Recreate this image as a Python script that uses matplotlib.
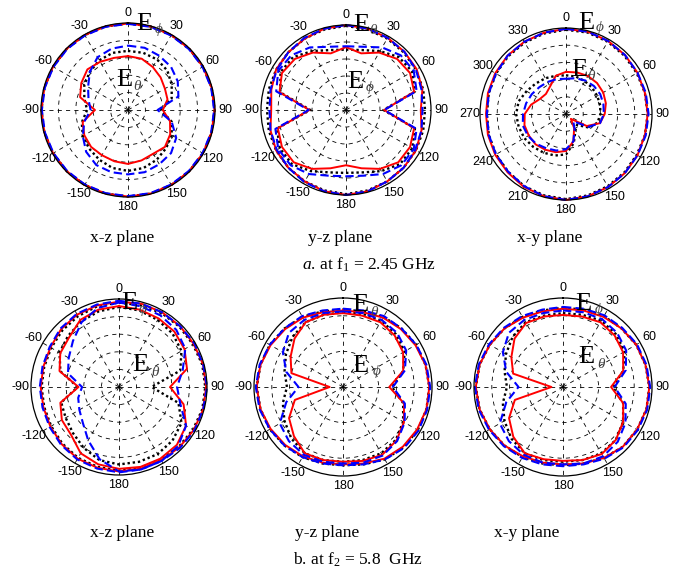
import numpy as np
import matplotlib
matplotlib.use("Agg")
import matplotlib.pyplot as plt

plt.rcParams['mathtext.fontset'] = 'custom'
plt.rcParams['mathtext.rm'] = 'Liberation Serif'
plt.rcParams['mathtext.it'] = 'Liberation Serif:italic'

# ---------------- data (normalised radius, angles 0..345 step 15 deg) ----------------
ANGLES = list(range(0, 360, 15))
GRID_ANGLES = [0, 30, 60, 90, 120, 150, 180, 210, 240, 270, 300, 330]
LABELS_SIGNED = ['0', '30', '60', '90', '120', '150', '180', '-150', '-120', '-90', '-60', '-30']
LABELS_360 = ['0', '30', '60', '90', '120', '150', '180', '210', '240', '270', '300', '330']
RINGS = [0.2, 0.4, 0.6, 0.8]

plane_names = ['x-z plane', 'y-z plane', 'x-y plane']
caption_a = r'$\mathit{a}$. at f$_{1}$ = 2.45 GHz'
caption_b = r'b. at f$_{2}$ = 5.8  GHz'

# plot 1: x-z plane, 2.45 GHz
p1_out_red = [0.995] * 24
p1_out_black = [0.995] * 24
p1_out_blue = [0.99] * 24
p1_in_red = [0.62, 0.61, 0.57, 0.53, 0.49, 0.47, 0.40, 0.50, 0.56, 0.60, 0.58, 0.60,
             0.62, 0.61, 0.60, 0.60, 0.58, 0.54, 0.38, 0.57, 0.62, 0.66, 0.64, 0.62]
p1_in_black = [0.68, 0.68, 0.67, 0.64, 0.58, 0.52, 0.38, 0.52, 0.58, 0.62, 0.66, 0.69,
               0.70, 0.69, 0.66, 0.63, 0.60, 0.55, 0.47, 0.52, 0.58, 0.62, 0.66, 0.68]
p1_in_blue = [0.74, 0.74, 0.72, 0.70, 0.66, 0.60, 0.34, 0.52, 0.64, 0.70, 0.72, 0.74,
              0.74, 0.74, 0.73, 0.68, 0.60, 0.52, 0.43, 0.47, 0.53, 0.62, 0.70, 0.73]

# plot 2: y-z plane, 2.45 GHz
p2_out_red = [1.00, 0.99, 0.98, 0.97, 0.96, 0.93, 0.88, 0.92, 0.95, 0.96, 0.97, 0.99,
              1.00, 0.99, 0.97, 0.96, 0.95, 0.92, 0.88, 0.91, 0.95, 0.96, 0.97, 0.99]
p2_out_black = [0.99, 0.98, 0.97, 0.96, 0.95, 0.94, 0.93, 0.94, 0.95, 0.96, 0.97, 0.98,
                0.99, 0.98, 0.97, 0.96, 0.95, 0.94, 0.93, 0.94, 0.95, 0.96, 0.97, 0.98]
p2_out_blue = [1.00, 0.99, 0.98, 0.97, 0.95, 0.92, 0.90, 0.92, 0.94, 0.96, 0.97, 0.99,
               1.00, 0.99, 0.98, 0.96, 0.94, 0.92, 0.90, 0.92, 0.94, 0.96, 0.98, 0.99]
p2_in_red = [0.74, 0.69, 0.78, 0.85, 0.87, 0.83, 0.45, 0.83, 0.87, 0.87, 0.80, 0.71,
             0.65, 0.71, 0.80, 0.87, 0.87, 0.83, 0.43, 0.81, 0.87, 0.85, 0.78, 0.69]
p2_in_black = [0.71, 0.73, 0.80, 0.88, 0.90, 0.84, 0.44, 0.84, 0.90, 0.90, 0.83, 0.76,
               0.74, 0.76, 0.83, 0.90, 0.90, 0.84, 0.42, 0.80, 0.89, 0.88, 0.80, 0.73]
p2_in_blue = [0.75, 0.77, 0.85, 0.91, 0.92, 0.86, 0.45, 0.86, 0.92, 0.92, 0.87, 0.80,
              0.78, 0.80, 0.87, 0.92, 0.92, 0.86, 0.44, 0.85, 0.92, 0.91, 0.85, 0.77]

# plot 3: x-y plane, 2.45 GHz
p3_out_red = [0.99, 0.99, 0.98, 0.97, 0.96, 0.95, 0.95, 0.95, 0.96, 0.97, 0.98, 0.99,
              1.00, 0.99, 0.98, 0.96, 0.95, 0.94, 0.93, 0.94, 0.95, 0.96, 0.97, 0.98]
p3_out_black = [0.98, 0.98, 0.97, 0.96, 0.95, 0.95, 0.95, 0.95, 0.95, 0.96, 0.97, 0.98,
                0.99, 0.98, 0.97, 0.95, 0.94, 0.93, 0.92, 0.93, 0.94, 0.95, 0.96, 0.97]
p3_out_blue = [0.99, 0.99, 0.98, 0.97, 0.96, 0.96, 0.96, 0.96, 0.96, 0.97, 0.98, 0.99,
               1.00, 0.99, 0.97, 0.95, 0.94, 0.93, 0.92, 0.93, 0.94, 0.96, 0.97, 0.98]
p3_in_red = [0.49, 0.50, 0.51, 0.51, 0.50, 0.48, 0.45, 0.41, 0.28, 0.08, 0.19, 0.33,
             0.43, 0.46, 0.48, 0.50, 0.50, 0.50, 0.48, 0.42, 0.35, 0.33, 0.37, 0.46]
p3_in_black = [0.45, 0.45, 0.44, 0.43, 0.42, 0.41, 0.40, 0.38, 0.32, 0.18, 0.22, 0.35,
               0.47, 0.50, 0.52, 0.54, 0.56, 0.57, 0.58, 0.57, 0.53, 0.50, 0.48, 0.46]
p3_in_blue = [0.41, 0.43, 0.45, 0.46, 0.46, 0.45, 0.44, 0.41, 0.30, 0.12, 0.20, 0.33,
              0.41, 0.44, 0.46, 0.49, 0.51, 0.52, 0.50, 0.48, 0.46, 0.44, 0.43, 0.42]

# plot 4: x-z plane, 5.8 GHz
p4_out_red = [0.97, 0.98, 0.98, 0.98, 0.98, 0.99, 0.99, 0.99, 0.98, 0.97, 0.96, 0.96,
              0.96, 0.95, 0.94, 0.92, 0.90, 0.89, 0.89, 0.89, 0.90, 0.93, 0.95, 0.96]
p4_out_black = [0.96, 0.96, 0.97, 0.97, 0.97, 0.98, 0.98, 0.98, 0.97, 0.96, 0.95, 0.95,
                0.95, 0.94, 0.93, 0.91, 0.89, 0.88, 0.88, 0.88, 0.89, 0.91, 0.93, 0.95]
p4_out_blue = [0.98, 0.98, 0.98, 0.98, 0.99, 0.99, 1.00, 0.99, 0.99, 0.98, 0.97, 0.97,
               0.97, 0.96, 0.95, 0.93, 0.91, 0.90, 0.90, 0.90, 0.91, 0.94, 0.96, 0.97]
p4_in_red = [0.92, 0.91, 0.90, 0.89, 0.86, 0.80, 0.58, 0.76, 0.88, 0.93, 0.94, 0.94,
             0.93, 0.91, 0.87, 0.77, 0.75, 0.69, 0.46, 0.70, 0.77, 0.80, 0.88, 0.91]
p4_in_black = [0.91, 0.90, 0.88, 0.86, 0.82, 0.72, 0.37, 0.70, 0.82, 0.86, 0.88, 0.88,
               0.88, 0.86, 0.80, 0.74, 0.70, 0.68, 0.47, 0.69, 0.78, 0.82, 0.86, 0.89]
p4_in_blue = [0.96, 0.95, 0.94, 0.92, 0.87, 0.75, 0.66, 0.72, 0.88, 0.95, 0.97, 0.97,
              0.96, 0.85, 0.70, 0.58, 0.52, 0.48, 0.42, 0.60, 0.66, 0.74, 0.85, 0.93]

# plot 5: y-z plane, 5.8 GHz
p5_out_red = [0.86, 0.87, 0.90, 0.92, 0.94, 0.96, 0.97, 0.97, 0.96, 0.95, 0.93, 0.89,
              0.87, 0.88, 0.90, 0.92, 0.94, 0.96, 0.97, 0.96, 0.94, 0.92, 0.90, 0.87]
p5_out_black = [0.87, 0.88, 0.91, 0.93, 0.95, 0.96, 0.97, 0.97, 0.97, 0.96, 0.94, 0.90,
                0.88, 0.89, 0.91, 0.93, 0.95, 0.96, 0.97, 0.96, 0.95, 0.93, 0.91, 0.88]
p5_out_blue = [0.88, 0.89, 0.92, 0.93, 0.95, 0.97, 0.98, 0.98, 0.98, 0.97, 0.94, 0.90,
               0.88, 0.89, 0.91, 0.93, 0.95, 0.97, 0.98, 0.97, 0.95, 0.93, 0.92, 0.89]
p5_in_red = [0.83, 0.83, 0.84, 0.82, 0.78, 0.70, 0.52, 0.71, 0.79, 0.85, 0.88, 0.86,
             0.84, 0.85, 0.86, 0.78, 0.70, 0.56, 0.15, 0.60, 0.68, 0.77, 0.84, 0.84]
p5_in_black = [0.84, 0.85, 0.86, 0.84, 0.80, 0.70, 0.55, 0.70, 0.78, 0.84, 0.86, 0.85,
               0.84, 0.85, 0.86, 0.82, 0.76, 0.70, 0.63, 0.68, 0.74, 0.80, 0.84, 0.84]
p5_in_blue = [0.85, 0.86, 0.87, 0.86, 0.82, 0.72, 0.56, 0.72, 0.80, 0.86, 0.89, 0.88,
              0.86, 0.87, 0.88, 0.86, 0.82, 0.66, 0.50, 0.66, 0.78, 0.86, 0.87, 0.86]

# plot 6: x-y plane, 5.8 GHz
p6_out_red = [0.88, 0.89, 0.91, 0.93, 0.95, 0.96, 0.97, 0.97, 0.96, 0.95, 0.92, 0.89,
              0.87, 0.88, 0.90, 0.93, 0.95, 0.97, 0.98, 0.97, 0.95, 0.93, 0.90, 0.88]
p6_out_black = [0.89, 0.90, 0.92, 0.93, 0.95, 0.96, 0.97, 0.97, 0.96, 0.95, 0.92, 0.89,
                0.88, 0.89, 0.91, 0.93, 0.95, 0.97, 0.98, 0.97, 0.95, 0.93, 0.91, 0.89]
p6_out_blue = [0.90, 0.91, 0.93, 0.94, 0.96, 0.97, 0.98, 0.98, 0.97, 0.96, 0.93, 0.90,
               0.89, 0.90, 0.92, 0.94, 0.96, 0.98, 0.99, 0.98, 0.96, 0.94, 0.92, 0.90]
p6_in_red = [0.81, 0.82, 0.84, 0.82, 0.78, 0.70, 0.54, 0.70, 0.78, 0.84, 0.87, 0.85,
             0.83, 0.84, 0.86, 0.79, 0.70, 0.56, 0.13, 0.58, 0.67, 0.77, 0.83, 0.82]
p6_in_black = [0.83, 0.84, 0.86, 0.84, 0.80, 0.70, 0.56, 0.70, 0.78, 0.84, 0.86, 0.85,
               0.84, 0.85, 0.86, 0.82, 0.76, 0.70, 0.63, 0.68, 0.74, 0.80, 0.84, 0.83]
p6_in_blue = [0.86, 0.87, 0.88, 0.86, 0.82, 0.73, 0.58, 0.73, 0.81, 0.87, 0.90, 0.89,
              0.87, 0.88, 0.88, 0.86, 0.82, 0.66, 0.50, 0.66, 0.78, 0.86, 0.87, 0.86]

# ---------------- figure ----------------
W, H = 678, 576
fig = plt.figure(figsize=(W / 100, H / 100), dpi=100)
fig.patch.set_facecolor('white')

panels = [
    dict(c=(128, 110), R=87, labels=LABELS_SIGNED,
         series=(p1_out_red, p1_out_black, p1_out_blue, p1_in_red, p1_in_black, p1_in_blue),
         top=((144, 24), r'$\phi$', (159, 29)), inner=((124, 80), r'$\theta$', (138, 85))),
    dict(c=(346, 110), R=85, labels=LABELS_SIGNED,
         series=(p2_out_red, p2_out_black, p2_out_blue, p2_in_red, p2_in_black, p2_in_blue),
         top=((361, 25), r'$\theta$', (374, 30)), inner=((355, 82), r'$\phi$', (370, 87))),
    dict(c=(566, 114), R=86, labels=LABELS_360,
         series=(p3_out_red, p3_out_black, p3_out_blue, p3_in_red, p3_in_black, p3_in_blue),
         top=((586, 23), r'$\phi$', (600, 28)), inner=((579, 70), r'$\theta$', (592, 75))),
    dict(c=(119, 387), R=88, labels=LABELS_SIGNED,
         series=(p4_out_red, p4_out_black, p4_out_blue, p4_in_red, p4_in_black, p4_in_blue),
         top=((129, 303), r'$\phi$', (143, 310)), inner=((140, 365), r'$\theta$', (156, 371))),
    dict(c=(343, 387), R=89, labels=LABELS_SIGNED,
         series=(p5_out_red, p5_out_black, p5_out_blue, p5_in_red, p5_in_black, p5_in_blue),
         top=((360, 305), r'$\theta$', (375, 311)), inner=((360, 366), r'$\phi$', (377, 372))),
    dict(c=(563, 387), R=89, labels=LABELS_SIGNED,
         series=(p6_out_red, p6_out_black, p6_out_blue, p6_in_red, p6_in_black, p6_in_blue),
         top=((583, 304), r'$\phi$', (599, 309)), inner=((586, 357), r'$\theta$', (602, 363))),
]


def closed(vals):
    th = np.deg2rad(ANGLES + [360])
    return th, list(vals) + [vals[0]]


styles = [
    dict(color='black', linestyle=(0, (1.0, 1.2)), linewidth=1.7),   # dotted
    dict(color='red', linestyle='-', linewidth=1.4),                 # solid
    dict(color='blue', linestyle=(0, (4, 2)), linewidth=1.5),        # dashed
]

for p in panels:
    cx, cy = p['c']
    R = p['R']
    ax = fig.add_axes([(cx - R) / W, 1 - (cy + R) / H, 2 * R / W, 2 * R / H],
                      projection='polar')
    ax.set_theta_zero_location('N')
    ax.set_theta_direction(-1)
    ax.set_ylim(0, 1)
    ax.set_rgrids(RINGS, labels=[''] * len(RINGS))
    ax.set_thetagrids(GRID_ANGLES, p['labels'])
    ax.tick_params(axis='x', pad=-3, labelsize=9)
    for lab in ax.get_xticklabels():
        lab.set_fontfamily('Liberation Sans')
    ax.grid(True, color='black', linestyle=(0, (5, 5)), linewidth=0.6)
    ax.spines['polar'].set_linewidth(0.9)
    ax.set_facecolor('none')

    o_r, o_k, o_b, i_r, i_k, i_b = p['series']
    for vals, st in ((o_k, styles[0]), (i_k, styles[0]),
                     (o_r, styles[1]), (i_r, styles[1]),
                     (o_b, styles[2]), (i_b, styles[2])):
        th, rr = closed(vals)
        ax.plot(th, rr, clip_on=False, **st)

    # E labels
    for key in ('top', 'inner'):
        (ex, ey), sub, (sx, sy) = p[key]
        fig.text(ex / W, 1 - ey / H, 'E', fontsize=19, family='Liberation Serif',
                 ha='center', va='center', color='black')
        fig.text(sx / W, 1 - sy / H, sub, fontsize=11, ha='center', va='center',
                 color='#444444')

# captions
row1 = [(122, 238), (340, 238), (550, 238)]
row2 = [(122, 533), (327, 533), (527, 533)]
for (x, y), name in zip(row1, plane_names):
    fig.text(x / W, 1 - y / H, name, fontsize=12.5, family='Liberation Serif',
             ha='center', va='center')
for (x, y), name in zip(row2, plane_names):
    fig.text(x / W, 1 - y / H, name, fontsize=12.5, family='Liberation Serif',
             ha='center', va='center')
fig.text(369 / W, 1 - 265 / H, caption_a, fontsize=12.5, family='Liberation Serif',
         ha='center', va='center')
fig.text(358 / W, 1 - 560 / H, caption_b, fontsize=12.5, family='Liberation Serif',
         ha='center', va='center')

fig.savefig('out.png', dpi=100, facecolor='white')
